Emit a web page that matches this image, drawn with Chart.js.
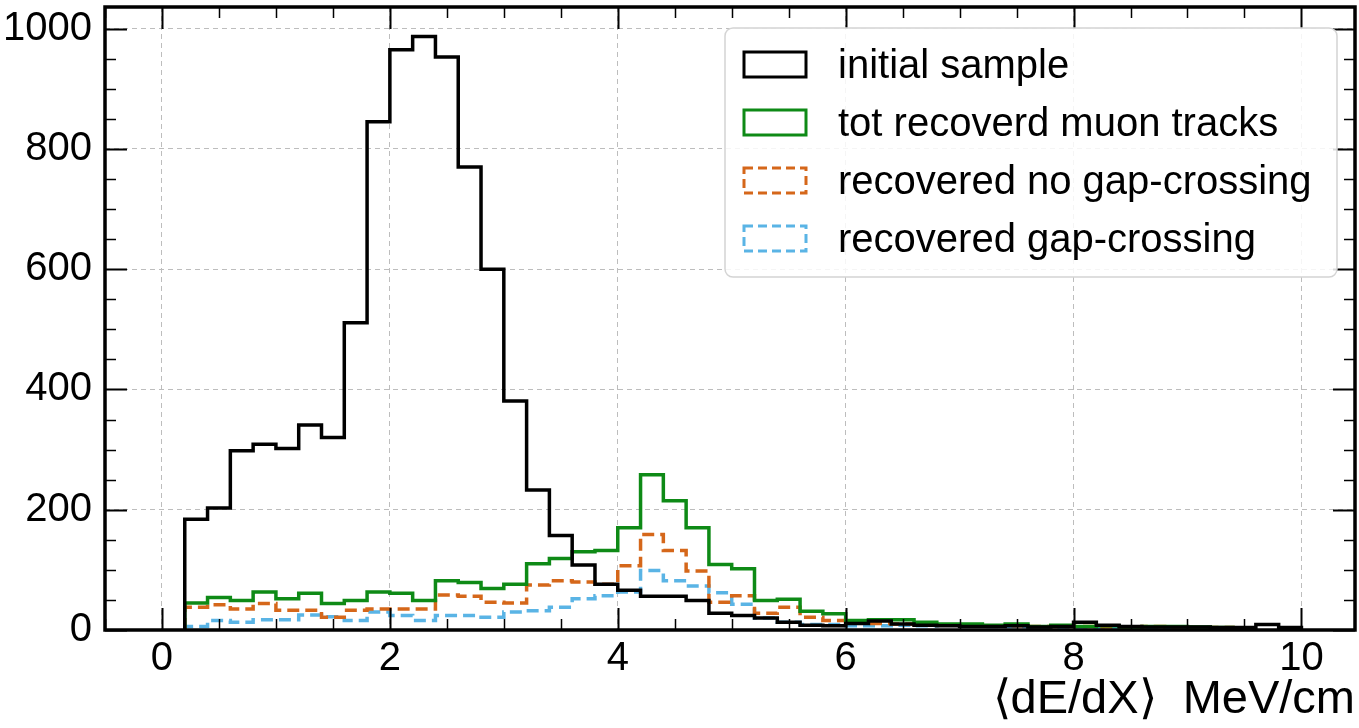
<!DOCTYPE html>
<html>
<head>
<meta charset="utf-8">
<script src="https://cdn.jsdelivr.net/npm/chart.js@4.4.1/dist/chart.umd.min.js"></script>
<style>
  html, body { margin: 0; padding: 0; background: #fff; }
  #wrap { width: 1359px; height: 728px; }
</style>
</head>
<body>
<div id="wrap"><canvas id="myChart" width="1359" height="728"></canvas></div>
<script>
// histogram bins: 0.2 wide, first bin starts at 0.2
const binStart = 0.2;
const binWidth = 0.2;

const initialSample = [184, 203, 298, 309, 302, 341, 320, 511, 845, 965, 987, 953, 770, 600, 381, 233, 157, 108, 76, 66,
  56, 56, 49, 28, 24, 20, 13, 8, 7, 11, 15, 10, 8, 7, 6, 6, 7, 5, 6, 13, 8, 6, 5, 5, 5, 4, 4, 9, 4];
const totRecovered = [45, 54, 49, 63, 52, 61, 44, 49, 63, 61, 49, 82, 79, 69, 76, 110, 119, 130, 132, 170,
  258, 215, 170, 109, 102, 49, 51, 31, 27, 16, 17, 17, 13, 10, 10, 8, 10, 6, 8, 6, 7, 5, 6, 6, 5, 4];
const noGapCrossing = [38, 42, 35, 44, 33, 33, 21, 33, 35, 35, 35, 58, 56, 46, 45, 75, 82, 80, 76, 107,
  159, 132, 98, 46, 57, 28, 38, 21, 16, 13, 11, 10, 9, 8, 8, 7, 7, 6, 6, 6, 5, 5, 6, 5, 4, 4];
const gapCrossing = [6, 16, 13, 17, 17, 25, 22, 16, 30, 24, 16, 24, 24, 21, 30, 32, 38, 52, 57, 63,
  99, 82, 73, 62, 43, 20, 13, 9, 9, 7, 7, 8, 7, 8, 7, 6, 6, 5, 5, 5, 4, 4, 3, 4, 4, 3];

const seriesLabels = ["initial sample", "tot recoverd muon tracks", "recovered no gap-crossing", "recovered gap-crossing"];
const xTicks = [0, 2, 4, 6, 8, 10];
const yTicks = [0, 200, 400, 600, 800, 1000];

const FONT = "'Liberation Sans', Arial, Helvetica, sans-serif";
Chart.defaults.font.family = FONT;
Chart.defaults.color = "#000";

// matplotlib-like "step" outline: up at first edge, flat over each bin, down at last edge
function stepPoints(counts) {
  const edge = i => +(binStart + i * binWidth).toFixed(2);
  const pts = [{ x: edge(0), y: 0 }];
  counts.forEach((c, i) => {
    pts.push({ x: edge(i), y: c });
    pts.push({ x: edge(i + 1), y: c });
  });
  pts.push({ x: edge(counts.length), y: 0 });
  return pts;
}

const styles = [
  { color: "#000000", dash: [] },
  { color: "#0e8a16", dash: [] },
  { color: "#d5671a", dash: [12, 6] },
  { color: "#5ab4e5", dash: [12, 6] },
];
const allCounts = [initialSample, totRecovered, noGapCrossing, gapCrossing];

// inward ticks on all four sides, thick frame, legend box inside the axes
const framePlugin = {
  id: "frame",
  afterDatasetsDraw(chart) {
    const { ctx, chartArea: a, scales: { x, y } } = chart;
    ctx.save();
    ctx.strokeStyle = "#000";
    for (let k = -1; k <= 21; k++) {
      const v = k * 0.5;
      if (v < x.min || v > x.max) continue;
      const major = xTicks.includes(v);
      const len = major ? 22 : 11;
      const px = Math.round(x.getPixelForValue(v)) + 0.5;
      ctx.lineWidth = major ? 2 : 1.5;
      ctx.beginPath();
      ctx.moveTo(px, a.bottom); ctx.lineTo(px, a.bottom - len);
      ctx.moveTo(px, a.top); ctx.lineTo(px, a.top + len);
      ctx.stroke();
    }
    for (let v = 0; v <= y.max; v += 50) {
      const major = yTicks.includes(v);
      const len = major ? 22 : 11;
      const py = Math.round(y.getPixelForValue(v)) + 0.5;
      ctx.lineWidth = major ? 2 : 1.5;
      ctx.beginPath();
      ctx.moveTo(a.left, py); ctx.lineTo(a.left + len, py);
      ctx.moveTo(a.right, py); ctx.lineTo(a.right - len, py);
      ctx.stroke();
    }
    ctx.lineWidth = 3.5;
    ctx.strokeRect(a.left, a.top, a.right - a.left, a.bottom - a.top);
    ctx.restore();
  },
  afterDraw(chart) {
    const ctx = chart.ctx;
    ctx.save();
    // legend frame
    ctx.beginPath();
    ctx.roundRect(725, 28, 612, 249, 8);
    ctx.fillStyle = "rgba(255,255,255,0.85)";
    ctx.fill();
    ctx.strokeStyle = "#d4d4d4";
    ctx.lineWidth = 1.5;
    ctx.stroke();
    seriesLabels.forEach((label, i) => {
      const cy = 64.5 + i * 58;
      ctx.strokeStyle = styles[i].color;
      ctx.setLineDash(styles[i].dash.length ? [9, 5] : []);
      ctx.lineWidth = 3;
      ctx.strokeRect(744, cy - 12.5, 62, 25);
      ctx.setLineDash([]);
      ctx.fillStyle = "#000";
      ctx.font = "40px " + FONT;
      ctx.textBaseline = "alphabetic";
      ctx.textAlign = "left";
      ctx.fillText(label, 838, cy + 13);
    });
    ctx.restore();
  },
};

var ctx = document.getElementById("myChart").getContext("2d");
var myChart = new Chart(ctx, {
  type: "line",
  data: {
    datasets: allCounts.map((counts, i) => ({
      label: seriesLabels[i],
      data: stepPoints(counts),
      borderColor: styles[i].color,
      borderDash: styles[i].dash,
      borderWidth: 3.5,
      pointRadius: 0,
      tension: 0,
      fill: false,
    })),
  },
  options: {
    responsive: false,
    animation: false,
    layout: { padding: { left: 0, right: 4, top: 7, bottom: 0 } },
    plugins: { legend: { display: false }, tooltip: { enabled: false } },
    scales: {
      x: {
        type: "linear",
        min: -0.5,
        max: 10.47,
        afterBuildTicks: s => { s.ticks = xTicks.map(v => ({ value: v })); },
        afterFit: s => { s.height = 98; s.paddingLeft = 0; s.paddingRight = 0; },
        ticks: { padding: 5, autoSkip: false, maxRotation: 0, font: { size: 40 }, color: "#000", callback: v => String(v) },
        grid: { color: "#bdbdbd", lineWidth: 1, drawTicks: false },
        border: { display: false, dash: [5, 4] },
        title: {
          display: true,
          text: "⟨dE/dX⟩  MeV/cm",
          align: "end",
          color: "#000",
          font: { size: 47 },
          padding: { top: 0, bottom: 0 },
        },
      },
      y: {
        min: 0,
        max: 1036,
        afterBuildTicks: s => { s.ticks = yTicks.map(v => ({ value: v })); },
        afterFit: s => { s.width = 105; s.paddingTop = 0; s.paddingBottom = 0; },
        ticks: { padding: 13, autoSkip: false, font: { size: 40 }, color: "#000", callback: v => String(v) },
        grid: { color: "#bdbdbd", lineWidth: 1, drawTicks: false },
        border: { display: false, dash: [5, 4] },
      },
    },
  },
  plugins: [framePlugin],
});
</script>
</body>
</html>
